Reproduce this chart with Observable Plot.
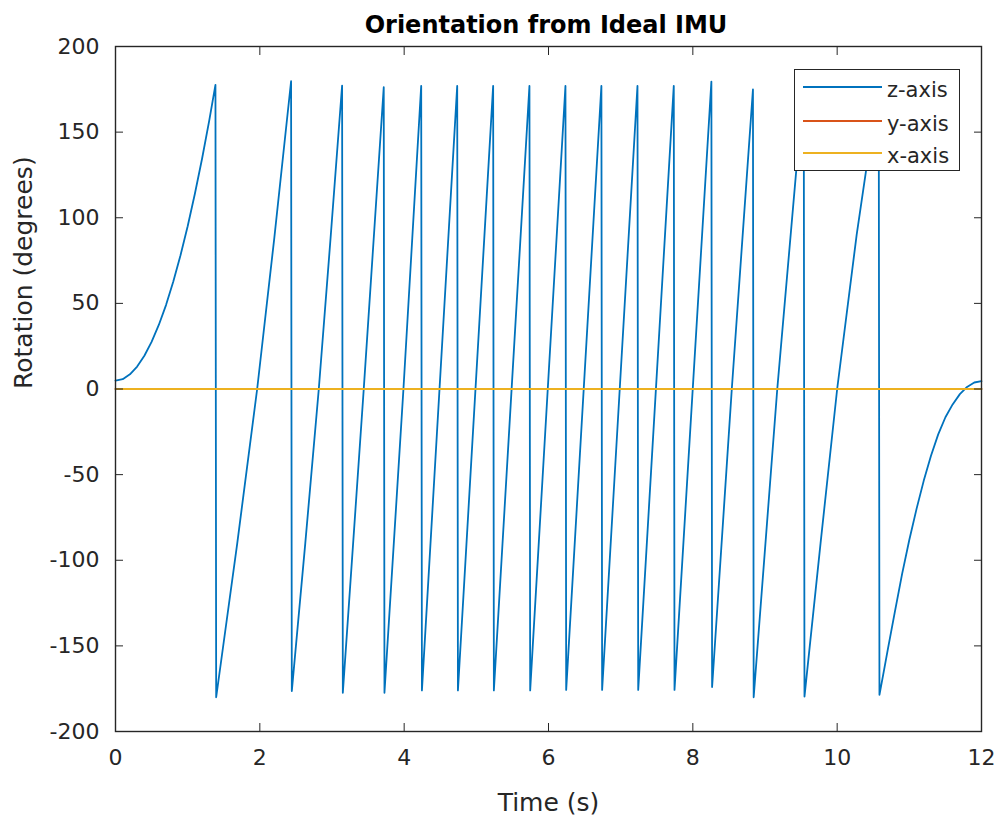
<!DOCTYPE html>
<html>
<head>
<meta charset="utf-8">
<script src="https://cdn.jsdelivr.net/npm/d3@7"></script>
<script src="https://cdn.jsdelivr.net/npm/@observablehq/plot@0.6"></script>
<style>
  body { margin: 0; background: #fff; font-family: "DejaVu Sans", sans-serif; }
  #wrap { position: relative; width: 1000px; height: 817px; }
  #title { position: absolute; left: 246px; width: 600px; top: 10px; text-align: center;
           font-weight: bold; font-size: 24px; line-height: 30px; color: #000; white-space: nowrap; }
  #legend { position: absolute; left: 794px; top: 69px; width: 164px; height: 100px;
            border: 1.5px solid #262626; background: #fff; }
  .item { position: absolute; left: 8px; height: 0; }
  .sw { position: absolute; left: 0; top: -1px; width: 79px; border-top: 2px solid; }
  .lab { position: absolute; left: 84px; top: -10px; font-size: 21px; line-height: 26px;
         color: #262626; white-space: nowrap; }
</style>
</head>
<body>
<div id="wrap">
  <div id="chart"></div>
  <div id="title"></div>
  <div id="legend"></div>
</div>
<script>
// ---- data ----
const titleText = "Orientation from Ideal IMU";
const xLabel = "Time (s)";
const yLabel = "Rotation (degrees)";
const seriesNames = ["z-axis", "y-axis", "x-axis"];
const seriesColors = ["#0072BD", "#D95319", "#EDB120"];
const xTicks = [0, 2, 4, 6, 8, 10, 12];
const yTicks = [-200, -150, -100, -50, 0, 50, 100, 150, 200];

// z-axis rotation (wrapped to ±180°)
const zTime = [
  0, 0.1, 0.2, 0.3, 0.4, 0.5, 0.6, 0.7, 0.8, 0.9, 1.0, 1.1, 1.2, 1.3, 1.385,
  1.395, 1.686, 1.963, 2.2, 2.433,
  2.443, 2.63, 2.817, 2.98, 3.14,
  3.15, 3.44, 3.717,
  3.727, 3.99, 4.236,
  4.246, 4.735,
  4.745, 5.233,
  5.243, 5.736,
  5.746, 6.235,
  6.245, 6.733,
  6.743, 7.233,
  7.243, 7.736,
  7.746, 8.257,
  8.267, 8.54, 8.833,
  8.843, 9.17, 9.537,
  9.547, 9.77, 10.0, 10.27, 10.576,
  10.586, 10.65, 10.7, 10.8, 10.9, 11.0, 11.1, 11.2, 11.3, 11.4, 11.5, 11.6, 11.7, 11.8, 11.9, 12
];
const zAngle = [
  4.9, 5.7, 8.6, 13.1, 19.4, 27.5, 37.4, 49, 62.6, 78, 95, 114, 134.6, 157, 177.6,
  -180, -90.4, 0, 88, 179.7,
  -176.4, -90, 0, 88, 177.2,
  -177.4, 0, 176.2,
  -177.4, 0, 177,
  -176, 177,
  -176, 177,
  -176, 177,
  -176, 177,
  -175.7, 177,
  -175.7, 177,
  -175.7, 177,
  -175.7, 179.5,
  -174, 0, 174.9,
  -180, 0, 178,
  -179.6, -90, 0, 90, 178,
  -178.6, -164, -152.5, -130, -108, -88, -70, -53.5, -39, -26.5, -16.5, -9, -3, 1.2, 3.8, 4.6
];
// y-axis and x-axis rotation (both zero throughout)
const flatTime = [0, 12];
const yAngle = [0, 0];
const xAngle = [0, 0];

const zData = zTime.map((t, i) => ({t, v: zAngle[i]}));
const yData = flatTime.map((t, i) => ({t, v: yAngle[i]}));
const xData = flatTime.map((t, i) => ({t, v: xAngle[i]}));

const ink = "#262626";
const fmt = d => String(d);
const plot = Plot.plot({
  width: 1000,
  height: 817,
  marginLeft: 115,
  marginRight: 19,
  marginTop: 46,
  marginBottom: 86,
  x: {domain: [0, 12], label: null},
  y: {domain: [-200, 200], label: null},
  style: {fontFamily: "DejaVu Sans, sans-serif", color: ink, background: "white", overflow: "visible"},
  marks: [
    Plot.line(zData, {x: "t", y: "v", stroke: seriesColors[0], strokeWidth: 1.8}),
    Plot.line(yData, {x: "t", y: "v", stroke: seriesColors[1], strokeWidth: 1.8}),
    Plot.line(xData, {x: "t", y: "v", stroke: seriesColors[2], strokeWidth: 1.8}),
    Plot.frame({stroke: ink, strokeWidth: 1.4}),
    Plot.axisX({anchor: "bottom", ticks: xTicks, tickSize: -8, tickPadding: 26, fontSize: 22, tickFormat: fmt, label: null}),
    Plot.axisX({anchor: "top", ticks: xTicks, tickSize: -8, tickFormat: () => "", label: null}),
    Plot.axisY({anchor: "left", ticks: yTicks, tickSize: -8, tickPadding: 24, fontSize: 22, tickFormat: fmt, label: null}),
    Plot.axisY({anchor: "right", ticks: yTicks, tickSize: -8, tickFormat: () => "", label: null}),
    Plot.text([xLabel], {text: d => d, frameAnchor: "bottom", dy: 71, fontSize: 25, lineAnchor: "middle", fill: ink}),
    Plot.text([yLabel], {text: d => d, frameAnchor: "left", dx: -92, rotate: -90, fontSize: 25, lineAnchor: "middle", fill: ink})
  ]
});
document.getElementById("chart").appendChild(plot);

document.getElementById("title").textContent = titleText;

const legend = document.getElementById("legend");
const lineYs = [16.5, 50.5, 83];
seriesNames.forEach((name, i) => {
  const item = document.createElement("div");
  item.className = "item";
  item.style.top = lineYs[i] + "px";
  const sw = document.createElement("div");
  sw.className = "sw";
  sw.style.borderTopColor = seriesColors[i];
  const lab = document.createElement("div");
  lab.className = "lab";
  lab.textContent = name;
  item.appendChild(sw);
  item.appendChild(lab);
  legend.appendChild(item);
});
</script>
</body>
</html>
